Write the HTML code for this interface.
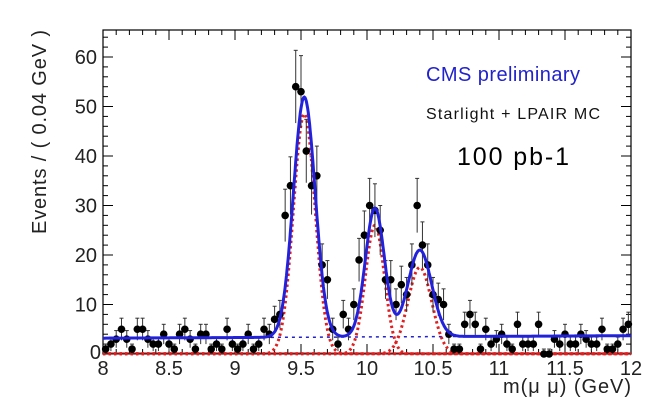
<!DOCTYPE html><html><head><meta charset="utf-8"><style>body{margin:0;background:#fff}svg{display:block}</style></head><body>
<svg id="s" width="658" height="418" xmlns="http://www.w3.org/2000/svg" font-family="Liberation Sans, sans-serif">
<text x="426" y="81" font-size="20" fill="#2222cc" textLength="154">CMS preliminary</text>
<text x="426" y="119" font-size="16" fill="#111" textLength="174">Starlight + LPAIR MC</text>
<text x="457" y="165" font-size="25" fill="#000" textLength="112">100 pb-1</text>
<text transform="translate(46,132) rotate(-90)" text-anchor="middle" font-size="20" fill="#222" textLength="204">Events / ( 0.04 GeV )</text>
<text x="631" y="393" text-anchor="end" font-size="20" fill="#222" textLength="128">m(μ μ) (GeV)</text>
</svg>
<script>
var s=document.getElementById('s'),NS='http://www.w3.org/2000/svg';
function X(m){return 103+(m-8)*132}function Y(v){return 354-4.95*v}
function el(t,a){var e=document.createElementNS(NS,t);for(var k in a)e.setAttribute(k,a[k]);s.appendChild(e);return e}
el('rect',{x:103,y:30,width:528,height:324,fill:'none',stroke:'#000','stroke-width':1.2});
for(var i=0;i<=40;i++){var m=8+i*0.1,x=X(m),L=(i%5==0)?10:5;el('line',{x1:x,y1:354,x2:x,y2:354-L,stroke:'#000'});el('line',{x1:x,y1:30,x2:x,y2:30+L,stroke:'#000'});}
for(var v=0;v<=64;v+=2){var y=Y(v),L=(v%10==0)?10:5;el('line',{x1:103,y1:y,x2:103+L,y2:y,stroke:'#000'});el('line',{x1:631,y1:y,x2:631-L,y2:y,stroke:'#000'});}
var xl=['8','8.5','9','9.5','10','10.5','11','11.5','12'];
xl.forEach(function(t,i){var e=el('text',{x:X(8+i*0.5),y:375,'text-anchor':'middle','font-size':20,fill:'#222'});e.textContent=t;});
[0,10,20,30,40,50,60].forEach(function(v){var e=el('text',{x:v==0?101:97,y:Y(v)+7+(v==0?-2:0),'text-anchor':'end','font-size':20,fill:'#222'});e.textContent=v;});
function g(m,mu,a,sg){return a*Math.exp(-0.5*Math.pow((m-mu)/sg,2))}
function p1(m){return g(m,9.525,48.5,0.082)}function p2(m){return g(m,10.06,26,0.072)}function p3(m){return g(m,10.4,17.5,0.09)}
function bk(m){return 3.2+0.5*(m-8)/4}
function tot(m){return bk(m)+p1(m)+p2(m)+p3(m)}
function path(f,a){var d='';for(var m=8;m<=12.0001;m+=0.005){var v=f(m);if(v<0.05)v=0.05;d+=(d?'L':'M')+X(m).toFixed(1)+','+Y(Math.min(v,66)).toFixed(1)}return el('path',Object.assign({d:d,fill:'none'},a))}
el('line',{x1:103,y1:353.5,x2:631,y2:353.5,stroke:'#8b1010','stroke-width':2});
path(function(m){return bk(m)},{stroke:'#2222cc','stroke-width':1.5,'stroke-dasharray':'3,4'});
[p1,p2,p3].forEach(function(f){path(f,{stroke:'#e02020','stroke-width':3,'stroke-dasharray':'2.5,3'})});
var d=[1,2,3,5,3,1,5,5,3,2,2,4,2,1,4,5,3,1,4,4,1,2,1,5,2,1,2,4,1,2,5,4,7,8,28,34,54,53,41,34,36,18,15,5,2,8,5,10,19,24,30,29,25,15,15,10,14,12,18,30,22,18,12,11,10,4,1,1,6,8,6,1,5,2,3,4,2,1,6,2,2,2,6,0,0,3,2,4,2,2,4,3,2,2,5,1,1,2,5,6];
d.forEach(function(n,i){var m=8.02+i*0.04,x=X(m),e=Math.sqrt(Math.max(n,1));
el('line',{x1:x,y1:Y(Math.max(0,n-e)),x2:x,y2:Y(n+e),stroke:'#333','stroke-width':1});
el('line',{x1:x-2,y1:Y(n+e),x2:x+2,y2:Y(n+e),stroke:'#333'});
el('circle',{cx:x,cy:Y(n),r:3.8,fill:'#000'});});
path(tot,{stroke:'#2222dd','stroke-width':3});
</script>
</body></html>
